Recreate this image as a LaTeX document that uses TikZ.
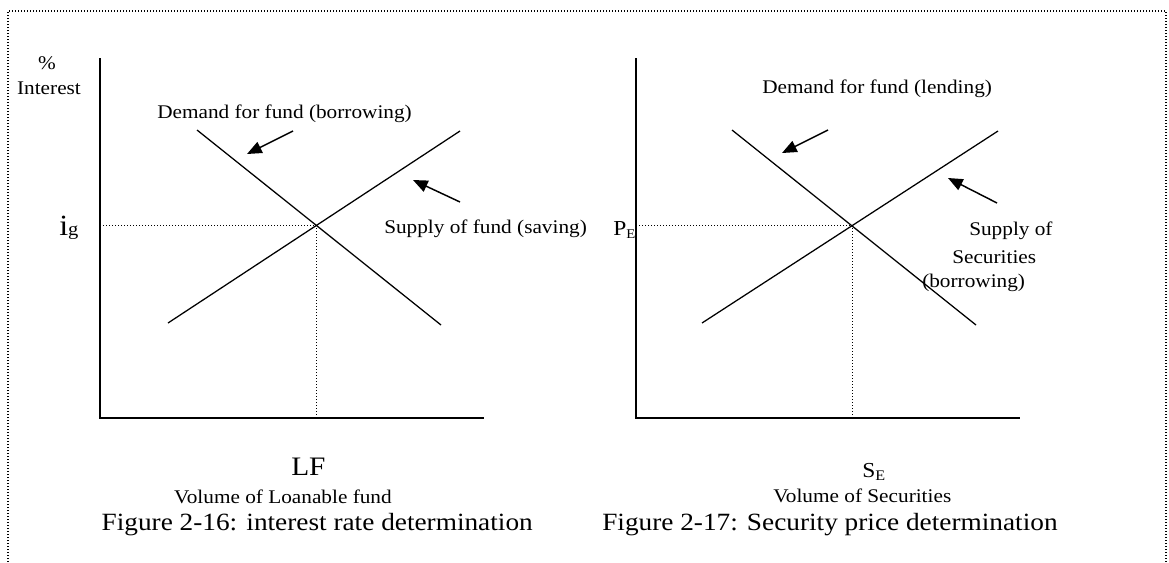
\documentclass[tikz,border=0pt]{standalone}
\usepackage{fontspec}
\setmainfont[FakeStretch=1.1]{Liberation Serif}
\usetikzlibrary{arrows.meta}
\begin{document}
\begin{tikzpicture}[
  x=0.75pt, y=-0.75pt,
  lbl/.style={inner sep=0pt,anchor=base west,font=\fontsize{14.5}{17}\selectfont},
  figcap/.style={inner sep=0pt,font=\fontsize{18.6}{22}\selectfont},
  axis/.style={line width=1.5pt},
  curve/.style={line width=0.95pt},
  guide/.style={line width=0.75pt,dash pattern=on 0.75pt off 1.5pt},
  pointer/.style={line width=1.1pt,-{Triangle[length=11pt,width=9pt]}}
]
  \useasboundingbox (0,0) rectangle (1169,562);
  % dotted frame, open at the bottom
  \draw[line width=1pt,dash pattern=on 1pt off 1.25pt] (8,562) -- (8,11) -- (1166,11) -- (1166,562);

  % left graph: loanable funds
  \coordinate (LO) at (100,418);
  \coordinate (LY) at (100,58);
  \coordinate (LX) at (484,418);
  \draw[axis] (LY) -- (LO) -- (LX);
  \coordinate (Ld1) at (197,130);
  \coordinate (Ld2) at (441,325);
  \coordinate (Ls1) at (168,323);
  \coordinate (Ls2) at (460,131);
  \draw[curve] (Ld1) -- (Ld2);
  \draw[curve] (Ls1) -- (Ls2);
  \coordinate (LE) at (316,225);
  \coordinate (LEy) at (100,225);
  \coordinate (LEx) at (316,418);
  \draw[guide] (LEy) -- (LE) -- (LEx);
  \coordinate (Lpa1) at (293,131);
  \coordinate (Lpa2) at (247,154);
  \coordinate (Lpb1) at (460,202);
  \coordinate (Lpb2) at (413,180);
  \draw[pointer] (Lpa1) -- (Lpa2);
  \draw[pointer] (Lpb1) -- (Lpb2);

  \node[lbl,anchor=base] (pct) at (47,69) {\%};
  \node[lbl,anchor=base] (intr) at (49,94) {Interest};
  \node[lbl] (ig) at (59,235) {{\fontsize{22}{22}\selectfont i}{\fontsize{14}{14}\selectfont g}};
  \node[lbl] (Ldem) at (157,118) {Demand for fund (borrowing)};
  \node[lbl] (Lsup) at (384,233) {Supply of fund (saving)};
  \node[lbl,font=\fontsize{20}{22}\selectfont] (LF) at (291,475) {LF};
  \node[lbl,anchor=base east] (Lvol) at (392,503) {Volume of Loanable fund};
  \node[figcap,anchor=base east] (Lcap) at (533,530) {Figure 2-16: interest rate determination};

  % right graph: securities
  \coordinate (RO) at (636,418);
  \coordinate (RY) at (636,58);
  \coordinate (RX) at (1020,418);
  \draw[axis] (RY) -- (RO) -- (RX);
  \coordinate (Rd1) at (732,130);
  \coordinate (Rd2) at (976,325);
  \coordinate (Rs1) at (702,323);
  \coordinate (Rs2) at (998,131);
  \draw[curve] (Rd1) -- (Rd2);
  \draw[curve] (Rs1) -- (Rs2);
  \coordinate (RE) at (852,225);
  \coordinate (REy) at (636,225);
  \coordinate (REx) at (852,418);
  \draw[guide] (REy) -- (RE) -- (REx);
  \coordinate (Rpa1) at (828,130);
  \coordinate (Rpa2) at (782,153);
  \coordinate (Rpb1) at (997,203);
  \coordinate (Rpb2) at (948,178);
  \draw[pointer] (Rpa1) -- (Rpa2);
  \draw[pointer] (Rpb1) -- (Rpb2);

  \node[lbl] (PE) at (613,235) {{\fontsize{16}{16}\selectfont P}\raisebox{-2.5pt}{\fontsize{10}{10}\selectfont E}};
  \node[lbl] (Rdem) at (762,93) {Demand for fund (lending)};
  \node[lbl] (Rsup1) at (969,235) {Supply of};
  \node[lbl] (Rsup2) at (952,263) {Securities};
  \node[lbl] (Rsup3) at (922,287) {(borrowing)};
  \node[lbl] (SE) at (862,477) {{\fontsize{16}{16}\selectfont S}\raisebox{-2.5pt}{\fontsize{11}{11}\selectfont E}};
  \node[lbl] (Rvol) at (773,502) {Volume of Securities};
  \node[figcap,anchor=base west] (Rcap) at (602,530) {Figure 2-17: Security price determination};
\end{tikzpicture}
\end{document}
